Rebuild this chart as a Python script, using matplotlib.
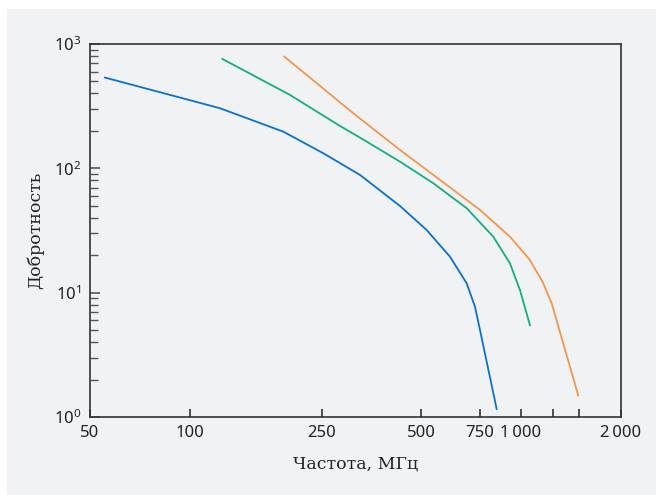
import matplotlib
matplotlib.use("Agg")
import matplotlib.pyplot as plt
from matplotlib.ticker import FixedLocator, FixedFormatter, LogLocator, NullFormatter
from matplotlib.patches import Rectangle

# Data (frequency MHz, quality factor)
blue_x = [55.5, 123.4, 191.6, 253, 326.6, 431.2, 519.1, 610.3, 685.5, 726.3,
          752, 844.6]
blue_y = [537, 304.3, 197.3, 132.3, 88.5, 49.8, 31.9, 19.5, 11.9, 7.72,
          5.01, 1.16]

green_x = [125.4, 200.7, 284.1, 326.6, 431.2, 543.5, 685.5, 824.8, 926.2,
           992.9, 1064.4]
green_y = [759, 389.5, 219.3, 176.6, 113.2, 75.9, 47.8, 28.2, 17.2,
           10.5, 5.47]

orange_x = [193, 311.6, 431.2, 569.4, 752, 926.2, 1064.4, 1167.4, 1237.5, 1489]
orange_y = [792, 277.5, 140.6, 80.7, 46.3, 28.2, 18.3, 11.9, 8.22, 1.49]

xticks = [50, 100, 250, 500, 750, 1000, 1250, 1500, 2000]
xticklabels = ["50", "100", "250", "500", "750", "1\u2009000", "", "", "2\u2009000"]
yticks = [1, 10, 100, 1000]
yticklabels = ["10$^0$", "10$^1$", "10$^2$", "10$^3$"]

BG = "#f1f2f4"
plt.rcParams["mathtext.fontset"] = "custom"
plt.rcParams["mathtext.rm"] = "Noto Sans"
plt.rcParams["mathtext.default"] = "rm"

fig = plt.figure(figsize=(6.56, 4.95), dpi=100, facecolor="white")
fig.patches.append(Rectangle((7 / 656, 0), 1 - 7 / 656, (495 - 9) / 495,
                             transform=fig.transFigure, facecolor=BG,
                             edgecolor="none", zorder=-10))
ax = fig.add_axes([90 / 656, 1 - 417 / 495, (620.7 - 90) / 656, (417 - 44) / 495])
ax.set_facecolor(BG)

ax.plot(blue_x, blue_y, color="#0a72d0", lw=1.3)
ax.plot(green_x, green_y, color="#13b07c", lw=1.3)
ax.plot(orange_x, orange_y, color="#f5964b", lw=1.3)

ax.set_xscale("log")
ax.set_yscale("log")
ax.set_xlim(50, 2000)
ax.set_ylim(1, 1000)

ax.xaxis.set_major_locator(FixedLocator(xticks))
ax.xaxis.set_major_formatter(FixedFormatter(xticklabels))
ax.xaxis.set_minor_locator(FixedLocator([]))
ax.yaxis.set_major_locator(FixedLocator(yticks))
ax.yaxis.set_major_formatter(FixedFormatter(yticklabels))
ax.yaxis.set_minor_locator(LogLocator(base=10, subs=range(2, 10)))
ax.yaxis.set_minor_formatter(NullFormatter())

for s in ax.spines.values():
    s.set_color("#333333")
    s.set_linewidth(1.2)

ax.tick_params(axis="x", which="major", direction="in", length=6, width=1.2,
               color="#333333", labelsize=12, pad=6, labelcolor="#222222")
ax.tick_params(axis="y", which="major", direction="in", length=7, width=1.2,
               color="#555555", labelsize=12, pad=6, labelcolor="#222222")
ax.tick_params(axis="y", which="minor", direction="in", length=6, width=1.0,
               color="#555555")
for lab in ax.get_xticklabels() + ax.get_yticklabels():
    lab.set_fontfamily("Noto Sans")

ax.set_xlabel("Частота, МГц", fontfamily="DejaVu Serif", fontsize=12.5,
              color="#222222", labelpad=10)
ax.set_ylabel("Добротность", fontfamily="DejaVu Serif", fontsize=12.5,
              color="#222222", labelpad=7)

fig.savefig("out.png", dpi=100, facecolor="white")
